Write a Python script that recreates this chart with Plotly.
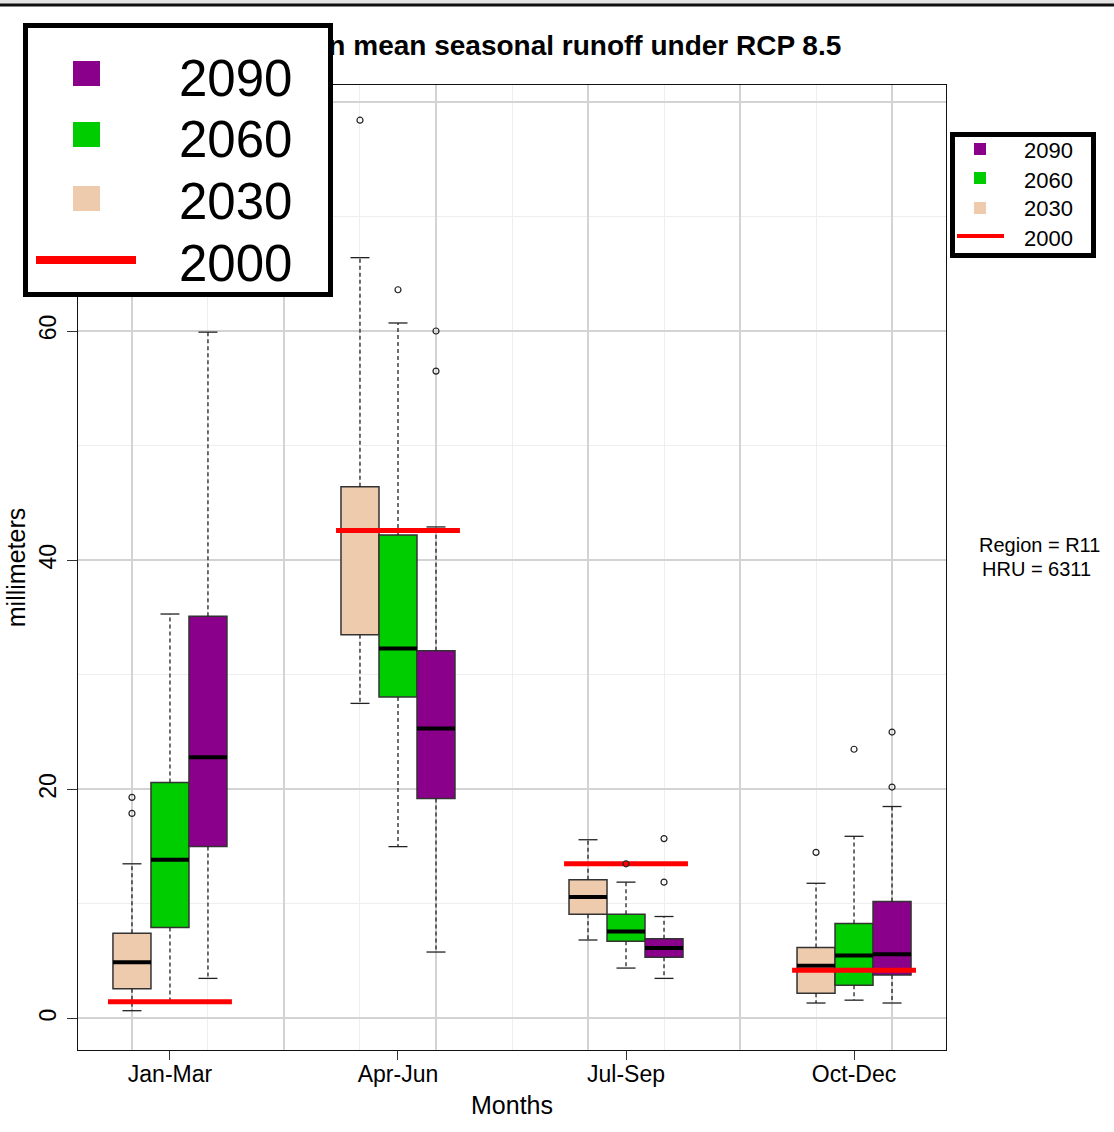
import plotly.graph_objects as go

# ---------------- data ----------------
categories = ["Jan-Mar", "Apr-Jun", "Jul-Sep", "Oct-Dec"]
years = ["2030", "2060", "2090"]

lower_2030 = [0.68, 27.5, 6.85, 1.35]
q1_2030 = [2.6, 33.5, 9.1, 2.2]
median_2030 = [4.9, 42.6, 10.6, 4.6]
q3_2030 = [7.45, 46.4, 12.1, 6.2]
upper_2030 = [13.5, 66.4, 15.6, 11.8]
outliers_2030 = [[17.9, 19.3], [78.4], [], [14.5]]

lower_2060 = [1.5, 15.0, 4.4, 1.6]
q1_2060 = [7.95, 28.05, 6.75, 2.9]
median_2060 = [13.85, 32.3, 7.6, 5.5]
q3_2060 = [20.6, 42.2, 9.1, 8.3]
upper_2060 = [35.3, 60.7, 11.9, 15.9]
outliers_2060 = [[], [63.6], [13.5], [23.5]]

lower_2090 = [3.5, 5.8, 3.5, 1.35]
q1_2090 = [15.0, 19.2, 5.35, 3.8]
median_2090 = [22.8, 25.3, 6.15, 5.6]
q3_2090 = [35.1, 32.1, 6.95, 10.2]
upper_2090 = [59.9, 42.9, 8.9, 18.5]
outliers_2090 = [[], [56.5, 60.0], [11.9, 15.7], [20.2, 25.0]]

baseline_2000 = [1.47, 42.6, 13.5, 4.2]

# ---------------- styling ----------------
colors = {"2030": "#EECBAD", "2060": "#00CD00", "2090": "#8B008B"}
FONT = "Liberation Sans, Arial, sans-serif"
W, H = 1114, 1130
L, R, T, B = 78, 946, 85, 1050

group_centers = [2, 8, 14, 20]
offsets = {"2030": -1, "2060": 0, "2090": 1}

stats = {
    "2030": (lower_2030, q1_2030, median_2030, q3_2030, upper_2030, outliers_2030),
    "2060": (lower_2060, q1_2060, median_2060, q3_2060, upper_2060, outliers_2060),
    "2090": (lower_2090, q1_2090, median_2090, q3_2090, upper_2090, outliers_2090),
}

fig = go.Figure()

# whiskers (dashed) and caps
wx, wy, cx, cy = [], [], [], []
for yr in years:
    lo, q1, md, q3, up, _ = stats[yr]
    for i, c in enumerate(group_centers):
        p = c + offsets[yr]
        wx += [p, p, None, p, p, None]
        wy += [q3[i], up[i], None, q1[i], lo[i], None]
        cx += [p - 0.25, p + 0.25, None, p - 0.25, p + 0.25, None]
        cy += [up[i], up[i], None, lo[i], lo[i], None]
fig.add_trace(go.Scatter(x=wx, y=wy, mode="lines", line=dict(color="#222", width=1.3, dash="4px,3px"),
                         showlegend=False, hoverinfo="skip"))
fig.add_trace(go.Scatter(x=cx, y=cy, mode="lines", line=dict(color="#222", width=1.3),
                         showlegend=False, hoverinfo="skip"))

# boxes
for yr in years:
    lo, q1, md, q3, up, _ = stats[yr]
    xs = [c + offsets[yr] for c in group_centers]
    fig.add_trace(go.Bar(x=xs, y=[b - a for a, b in zip(q1, q3)], base=q1, width=1,
                         marker=dict(color=colors[yr], line=dict(color="#333", width=1.5)),
                         name=yr, showlegend=False, hoverinfo="skip"))

# medians
mx, my = [], []
for yr in years:
    md = stats[yr][2]
    for i, c in enumerate(group_centers):
        p = c + offsets[yr]
        mx += [p - 0.5, p + 0.5, None]
        my += [md[i], md[i], None]
fig.add_trace(go.Scatter(x=mx, y=my, mode="lines", line=dict(color="black", width=4),
                         showlegend=False, hoverinfo="skip"))

# 2000 baseline segments
rx, ry = [], []
for i, c in enumerate(group_centers):
    rx += [c - 1.63, c + 1.63, None]
    ry += [baseline_2000[i], baseline_2000[i], None]
fig.add_trace(go.Scatter(x=rx, y=ry, mode="lines", line=dict(color="#FF0000", width=5),
                         showlegend=False, hoverinfo="skip"))

# outliers
ox, oy = [], []
for yr in years:
    outs = stats[yr][5]
    for i, c in enumerate(group_centers):
        for v in outs[i]:
            ox.append(c + offsets[yr])
            oy.append(v)
fig.add_trace(go.Scatter(x=ox, y=oy, mode="markers",
                         marker=dict(symbol="circle-open", size=6, color="#222", line=dict(width=1.2)),
                         showlegend=False, hoverinfo="skip"))

# dummy trace for the grid axis
fig.add_trace(go.Scatter(x=[1, 21], y=[None, None], xaxis="x2", mode="markers",
                         showlegend=False, hoverinfo="skip"))

xr = [-0.42, 22.42]
yr_ = [-2.75, 81.47]


def px(x):
    return (x - L) / (R - L)


def py(y):
    return (B - y) / (B - T)


annotations = []
# title (partly covered by the big legend box)
annotations.append(dict(text="<b>Median mean seasonal runoff under RCP 8.5</b>", xref="paper", yref="paper",
                        x=px(843), y=py(46), xanchor="right", yanchor="middle", showarrow=False,
                        font=dict(family=FONT, size=28, color="black")))


def box_ann(cx_, cy_, w, h, bg, bw=0, bc="black"):
    annotations.append(dict(text=" ", xref="paper", yref="paper", x=px(cx_), y=py(cy_),
                            xanchor="center", yanchor="middle", showarrow=False,
                            width=w, height=h, bgcolor=bg, borderwidth=bw, bordercolor=bc,
                            borderpad=0, font=dict(size=4)))


def text_ann(txt, x, y, size, xanchor="left"):
    annotations.append(dict(text=txt, xref="paper", yref="paper", x=px(x), y=py(y),
                            xanchor=xanchor, yanchor="middle", showarrow=False,
                            font=dict(family=FONT, size=size, color="black")))


legend_years = ["2090", "2060", "2030", "2000"]

# big legend overlay
box_ann(177.5, 160, 300, 264, "white", bw=5)
big_rows = [73, 135, 198, 260]
for yrl, yy in zip(legend_years, big_rows):
    if yrl == "2000":
        box_ann(86, yy, 100, 8, "#FF0000")
    else:
        box_ann(86, yy, 27, 25, colors[yrl])
text_rows = [78, 140, 201, 264]
for yrl, yy in zip(legend_years, text_rows):
    text_ann(yrl, 177, yy, 51)

# small legend
box_ann(1023, 195, 136, 116, "white", bw=5)
small_rows = [149, 178, 207.5, 236]
for yrl, yy in zip(legend_years, small_rows):
    if yrl == "2000":
        box_ann(980.5, yy, 47, 4, "#FF0000")
    else:
        box_ann(980, yy, 12, 12, colors[yrl])
small_text = [151, 180, 209, 238]
for yrl, yy in zip(legend_years, small_text):
    text_ann(yrl, 1022, yy, 22)

text_ann("Region = R11", 1039.5, 545, 20, "center")
text_ann("HRU = 6311", 1036, 569, 20, "center")

shapes = [
    dict(type="rect", xref="paper", yref="paper", x0=px(0), x1=px(W), y0=py(0), y1=py(4),
         fillcolor="#E4E4E4", line=dict(width=0), layer="above"),
    dict(type="line", xref="paper", yref="paper", x0=px(0), x1=px(W), y0=py(5), y1=py(5),
         line=dict(color="#111", width=3), layer="above"),
]

fig.update_layout(
    template="none",
    width=W, height=H,
    margin=dict(l=L, r=W - R, t=T, b=H - B, pad=0, autoexpand=False),
    paper_bgcolor="white", plot_bgcolor="white",
    barmode="overlay", bargap=0,
    font=dict(family=FONT, color="black"),
    annotations=annotations, shapes=shapes,
    xaxis=dict(range=xr, tickmode="array", tickvals=group_centers, ticktext=categories,
               ticks="outside", ticklen=9, tickcolor="#333", tickwidth=1, ticklabelstandoff=-6,
               showgrid=False, zeroline=False, showline=True, linecolor="#111", linewidth=1, mirror=True,
               tickfont=dict(size=23, family=FONT), automargin=False,
               title=dict(text="Months", font=dict(size=25, family=FONT), standoff=10),
               fixedrange=True),
    xaxis2=dict(range=xr, overlaying="x", anchor="y", side="bottom",
                tickmode="linear", tick0=1, dtick=4, showticklabels=False, ticks="",
                showgrid=True, gridcolor="#D3D3D3", gridwidth=2, zeroline=False, automargin=False,
                minor=dict(tickmode="linear", tick0=1, dtick=2, showgrid=True, gridcolor="#EEEEEE", gridwidth=1),
                fixedrange=True),
    yaxis=dict(range=yr_, tickmode="linear", tick0=0, dtick=20, tickangle=-90,
               ticks="outside", ticklen=10, tickcolor="#333", tickwidth=1, ticklabelstandoff=2,
               showgrid=True, gridcolor="#D3D3D3", gridwidth=2, zeroline=False,
               minor=dict(tickmode="linear", tick0=0, dtick=10, showgrid=True, gridcolor="#EEEEEE", gridwidth=1),
               showline=True, linecolor="#111", linewidth=1, mirror=True,
               tickfont=dict(size=23, family=FONT), automargin=False,
               title=dict(text="millimeters", font=dict(size=25, family=FONT), standoff=2),
               fixedrange=True),
)

fig.write_html("out.html", config=dict(displayModeBar=False, staticPlot=True),
               post_script="document.body.style.margin='0px';document.body.style.overflow='hidden';")
